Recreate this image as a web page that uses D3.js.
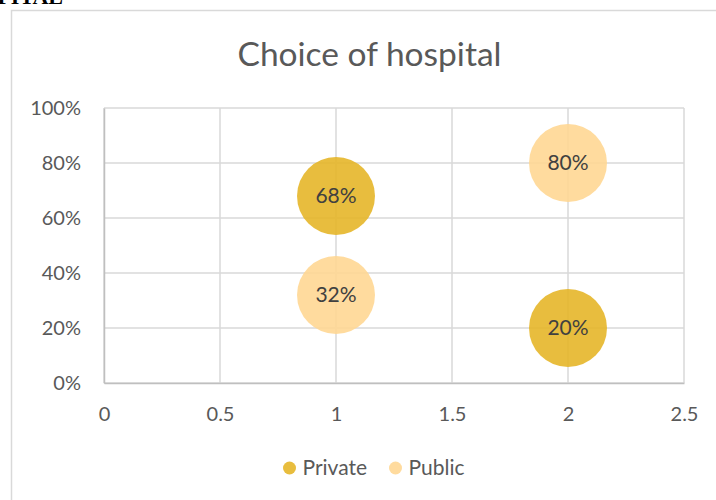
<!DOCTYPE html>
<meta charset="utf-8">
<script src="https://d3js.org/d3.v7.min.js"></script>
<style>
  body { margin: 0; background: #fff; }
  text { font-family: Lato, "Open Sans", sans-serif; }
</style>
<body>
<script>

    // chart data
    var seriesNames = ["Private", "Public"];
    var seriesColors = ["#E6B629", "#FFD793"];
    var xValues = [1, 2];
    var privateValues = [0.68, 0.20];
    var publicValues = [0.32, 0.80];
    var bubbleSizes = [1, 1];
    var xTicks = [0, 0.5, 1, 1.5, 2, 2.5];
    var yTicks = [0, 0.2, 0.4, 0.6, 0.8, 1.0];

    var W = 716, H = 500;
    var margin = {top: 108, right: 32, bottom: 117, left: 104},
        width = W - margin.left - margin.right,
        height = H - margin.top - margin.bottom;

    var svg = d3.select("body")
        .append("svg")
        .attr("width", W)
        .attr("height", H);

    // document heading cut off at the top of the picture
    svg.append("text")
        .attr("x", 63)
        .attr("y", 4)
        .attr("text-anchor", "end")
        .style("font-family", "'Liberation Serif', serif")
        .style("font-weight", "bold")
        .style("font-size", "22px")
        .text("HOSPITAL");

    // chart frame
    svg.append("path")
        .attr("d", "M11.5," + H + "V10.5H" + W)
        .attr("fill", "none")
        .attr("stroke", "#d9d9d9")
        .attr("stroke-width", 1.5);

    var g = svg.append("g")
        .attr("transform", "translate(" + margin.left + "," + margin.top + ")");

    var x = d3.scaleLinear().domain([0, 2.5]).range([0, width]);
    var y = d3.scaleLinear().domain([0, 1]).range([height, 0]);
    var r = d3.scaleSqrt().domain([0, 1]).range([0, 39]);

    // grid lines
    g.selectAll(".hgrid")
        .data(yTicks)
        .enter().append("line")
        .attr("x1", 0).attr("x2", width)
        .attr("y1", function(d) { return y(d); })
        .attr("y2", function(d) { return y(d); })
        .attr("stroke", "#d9d9d9")
        .attr("stroke-width", 1.5);

    g.selectAll(".vgrid")
        .data(xTicks)
        .enter().append("line")
        .attr("y1", 0).attr("y2", height)
        .attr("x1", function(d) { return x(d); })
        .attr("x2", function(d) { return x(d); })
        .attr("stroke", "#d9d9d9")
        .attr("stroke-width", 1.5);

    // axes
    var xAxis = g.append("g")
        .attr("transform", "translate(0," + height + ")")
        .call(d3.axisBottom(x).tickValues(xTicks).tickSize(0).tickPadding(24)
            .tickFormat(function(d) { return String(d); }));

    var yAxis = g.append("g")
        .call(d3.axisLeft(y).tickValues(yTicks).tickSize(0).tickPadding(23)
            .tickFormat(d3.format(".0%")));

    [xAxis, yAxis].forEach(function(a) {
        a.select(".domain").attr("stroke", "#bfbfbf").attr("stroke-width", 1.5);
        a.selectAll("text")
            .style("font-family", "Lato, sans-serif")
            .style("font-size", "20px")
            .attr("fill", "#595959");
    });

    // bubbles
    var series = [
        {name: seriesNames[0], color: seriesColors[0], values: privateValues},
        {name: seriesNames[1], color: seriesColors[1], values: publicValues}
    ];

    series.forEach(function(s) {
        var pts = xValues.map(function(xv, i) {
            return {x: xv, y: s.values[i], size: bubbleSizes[i]};
        });
        g.selectAll(".b-" + s.name)
            .data(pts)
            .enter().append("circle")
            .attr("cx", function(d) { return x(d.x); })
            .attr("cy", function(d) { return y(d.y); })
            .attr("r", function(d) { return r(d.size); })
            .attr("fill", s.color)
            .attr("fill-opacity", 0.9);
        g.selectAll(".l-" + s.name)
            .data(pts)
            .enter().append("text")
            .attr("x", function(d) { return x(d.x); })
            .attr("y", function(d) { return y(d.y); })
            .attr("dy", "0.35em")
            .attr("text-anchor", "middle")
            .style("font-size", "21px")
            .attr("fill", "#404040")
            .text(function(d) { return d3.format(".0%")(d.y); });
    });

    // title
    svg.append("text")
        .attr("x", 369.5)
        .attr("y", 66)
        .attr("text-anchor", "middle")
        .style("font-size", "33.5px")
        .attr("fill", "#595959")
        .text("Choice of hospital");

    // legend
    var legend = svg.append("g").attr("transform", "translate(0,468)");
    var legendX = [289.5, 395.5];
    series.forEach(function(s, i) {
        legend.append("circle")
            .attr("cx", legendX[i]).attr("cy", 0).attr("r", 6.5)
            .attr("fill", s.color).attr("fill-opacity", 0.9);
        legend.append("text")
            .attr("x", legendX[i] + 13).attr("y", 0)
            .attr("dy", "0.35em")
            .style("font-size", "21px")
            .attr("fill", "#595959")
            .text(s.name);
    });

</script>
</body>
